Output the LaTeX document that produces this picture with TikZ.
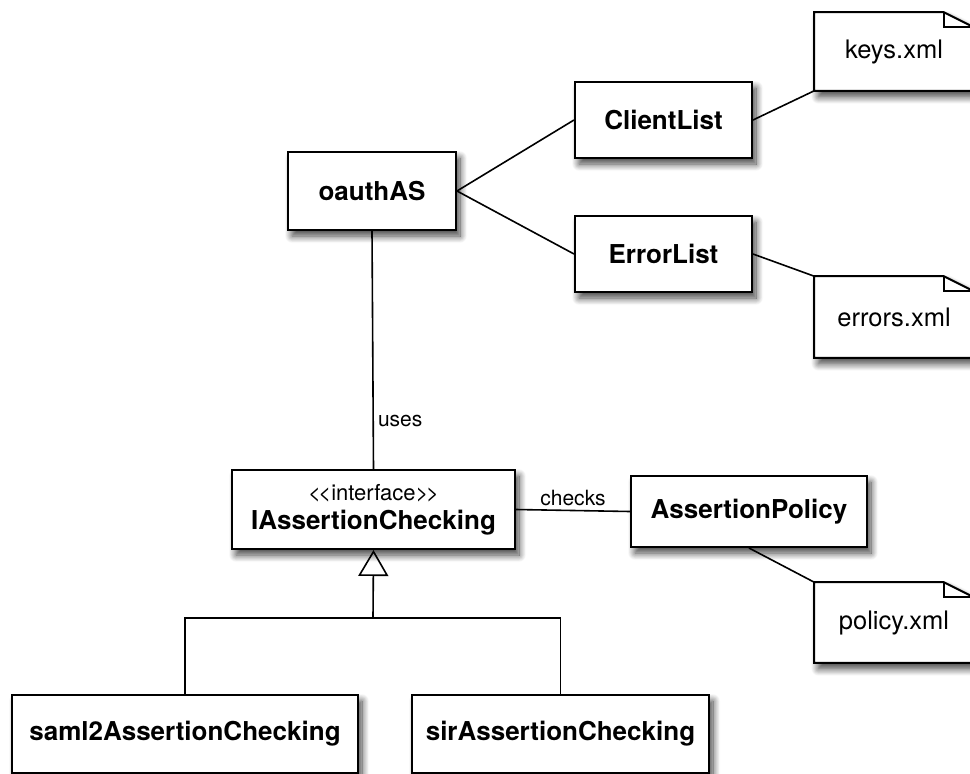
\documentclass[tikz,border=0pt]{standalone}
\usepackage{fontspec}
\setmainfont{TeX Gyre Heros}
\usetikzlibrary{arrows.meta,shadows.blur,backgrounds}
\newcommand\boldtxt{\fontsize{26}{29}\selectfont\bfseries}
\newcommand\plaintxt{\fontsize{25.5}{29}\selectfont}
\newcommand\stereotxt{\fontsize{22}{29}\selectfont\mdseries}
\newcommand\lbltxt{\fontsize{21}{25}\selectfont}
\begin{document}
\begin{tikzpicture}[x=1pt,y=-1pt,line width=1.6pt,
    shade/.style={blur shadow={shadow xshift=4pt,shadow yshift=-6pt,shadow blur radius=7pt,shadow blur steps=12,shadow opacity=75}},
    cls/.style={draw,line width=2pt,fill=white,shade,font=\boldtxt,inner sep=0pt,align=center},
    note/.style={inner sep=0pt,minimum width=158pt,font=\plaintxt},
    lbl/.style={font=\lbltxt,inner sep=4pt}]
  \useasboundingbox (0,0) rectangle (970,774);
  \clip (0,0) rectangle (970,774);
  % classes
  \node[cls,minimum width=168pt,minimum height=78pt] (oauth) at (372,191) {oauthAS};
  \node[cls,minimum width=177pt,minimum height=76pt] (client) at (663.5,120) {ClientList};
  \node[cls,minimum width=177pt,minimum height=76pt] (error) at (663.5,254) {ErrorList};
  \node[cls,minimum width=283pt,minimum height=79pt] (iac) at (373.5,509.5)
    {{\stereotxt <\kern-2.5pt<interface>\kern-2.5pt>}\\IAssertionChecking};
  \node[cls,minimum width=236pt,minimum height=71pt] (policy) at (749,511.5) {AssertionPolicy};
  \node[cls,minimum width=346pt,minimum height=78pt] (saml) at (185,734) {saml2AssertionChecking};
  \node[cls,minimum width=297pt,minimum height=78pt] (sir) at (560.5,734) {sirAssertionChecking};
  % notes
  \node[note,minimum height=77pt] (keys) at (894,51.5) {keys.xml};
  \node[note,minimum height=80pt] (errors) at (894,317) {errors.xml};
  \node[note,minimum height=79pt] (pxml) at (894,622.5) {policy.xml};
  \begin{scope}[on background layer]
    \foreach \n in {keys,errors,pxml}{
      \draw[line width=2pt,fill=white,shade] (\n.south west) -- (\n.north west) -- ([xshift=-30pt]\n.north east)
        -- ([yshift=-15pt]\n.north east) -- (\n.south east) -- cycle;
      \draw[line width=1.6pt] ([xshift=-30pt]\n.north east) |- ([yshift=-15pt]\n.north east);
    }
  \end{scope}
  % links
  \draw (oauth.east) -- (client.west);
  \draw (oauth.east) -- (error.west);
  \draw (client.east) -- (keys.south west);
  \draw (error.east) -- (errors.north west);
  \draw (policy.south) -- (pxml.north west);
  \draw (oauth.south) -- node[lbl,pos=.8,right] {uses} (iac.north);
  \draw (iac.east) -- node[lbl,above] {checks} (policy.west);
  % inheritance
  \coordinate (fork) at (373,618);
  \draw (saml.north) |- (fork) -| (sir.north);
  \draw[-{Triangle[open,width=30pt,length=26pt]}] (fork) -- (iac.south);
\end{tikzpicture}
\end{document}
